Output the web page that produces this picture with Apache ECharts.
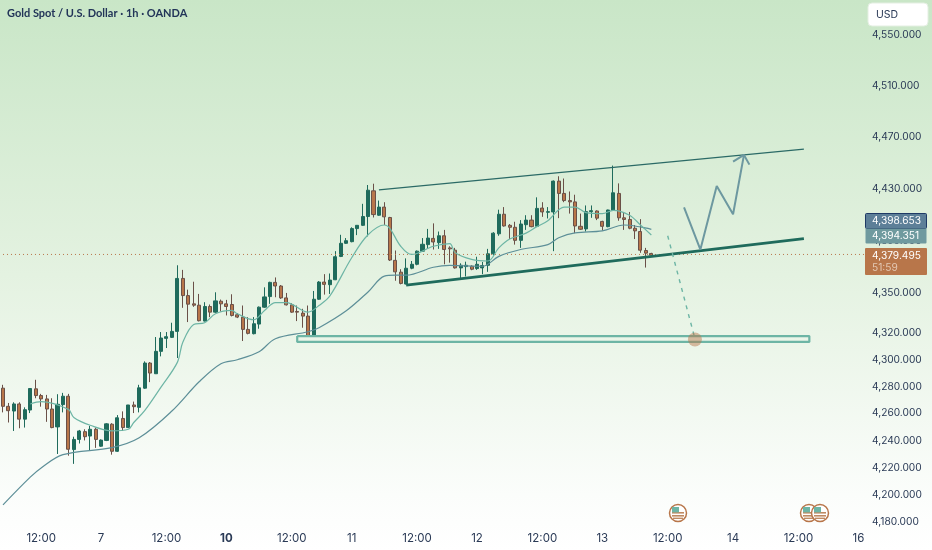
<!DOCTYPE html>
<html><head><meta charset="utf-8">
<script src="https://cdn.jsdelivr.net/npm/echarts@6/dist/echarts.min.js"></script>
<style>html,body{margin:0;padding:0;background:#fff}#c{width:932px;height:550px}</style>
</head><body><div id="c"></div>
<script>
const titleText = 'Gold Spot / U.S. Dollar · 1h · OANDA';
const yTicks = [4550,4510,4470,4430,4390,4350,4320,4300,4280,4260,4240,4220,4200,4180];
const xTickIdx = [7,18,30,41,53,64,76,87,99,110,122,134,146,157];
const xTickLabels = ['12:00','7','12:00','10','12:00','11','12:00','12','12:00','13','12:00','14','12:00','16'];
const barCount = 160;
const opens = [4278.75,4265.25,4261.75,4267,4255.75,4262.5,4278.25,4273.25,4270.75,4263.25,4250,4266.5,4272.75,4233.25,4240.75,4246.5,4243.25,4248.25,4235.75,4240,4252,4232,4256.25,4249.5,4266.25,4264.5,4278.75,4297.5,4289.5,4306.25,4316,4316.75,4321.25,4361.25,4348.25,4342,4341,4329,4340,4335.75,4344,
4342,4341.5,4333.75,4332,4322.75,4319.5,4326.75,4339.5,4347.5,4358.25,4355.5,4346.5,4341.25,4336.25,4335,4332.75,4317.75,4345.5,4358.5,4356.5,4360.25,4378,4388,4389.25,4399.25,4401.75,4408.5,4428.25,4409.5,4415.75,4407.75,4375,4366,4357,4369,4372,4382,4387,4391.75,4388.5,
4393.75,4384.5,4382.75,4369.25,4370.25,4370.5,4368.75,4369.25,4371.25,4380,4395.25,4410.25,4401.75,4400.25,4390.25,4402.25,4405.75,4401,4415,4411.75,4412,4435.75,4426.25,4420.75,4419.75,4401,4399,4412.25,4412.75,4404.75,4400.75,4413.25,4426.25,4407.5,4406.25,4399.5,4397,4382.5,4380.25];
const closes = [4265.25,4262,4267,4255.75,4262.75,4278.5,4273.25,4270.75,4263.25,4249.5,4266.75,4272.75,4233.5,4240.75,4247,4242.75,4248.25,4240.75,4240.25,4252.25,4232,4256.75,4249.5,4266.25,4265,4279,4297.5,4290,4306.25,4316.25,4317.25,4321.25,4361.25,4348.25,4341.75,4341,4329.25,4340,4335.75,4344.25,4342,
4340,4333.25,4332,4322.75,4319.75,4327,4339.5,4347.25,4358.25,4355.5,4346.5,4341.25,4335.75,4335.75,4332.75,4317.75,4345.5,4358.5,4356.75,4360,4377.75,4388,4390,4399.25,4401.75,4408.5,4428.75,4410,4415.75,4408.25,4375.25,4366.25,4357.5,4369,4372,4382,4387.25,4392,4389,4393.75,
4383.25,4383.75,4369.25,4371.25,4371.25,4368.25,4372,4371,4380,4395.75,4410.25,4401.25,4400.25,4390.25,4402.75,4405.75,4400.75,4414.75,4412,4412.25,4435.75,4426.25,4420.75,4419.75,4401.25,4398.75,4412.25,4413,4407.25,4401,4413.5,4426.75,4407.5,4406.25,4399.5,4397.5,4382.75,4380.5,4379];
const lows = [4260.75,4253.25,4247,4249,4249.5,4260.25,4271.25,4265,4253.75,4249,4230,4260.75,4228.75,4222.75,4237.75,4240,4232.75,4234.5,4235.25,4239.5,4229.5,4231.5,4247,4249.25,4260.25,4260.75,4278.25,4283.25,4289.5,4302.5,4308.75,4316.25,4301.25,4339,4328.25,4339.75,4328.75,4328.75,4332,4335.25,4336.25,
4333.25,4332.5,4331.25,4314,4319,4319,4323.25,4339,4342,4347,4345.75,4340.75,4335.25,4329,4324,4317.5,4317.5,4345,4349,4349.5,4360,4377.5,4387.5,4388.75,4394.25,4401.25,4393.25,4407.75,4409,4402,4374.5,4359.5,4356.75,4356.75,4368.25,4371.25,4381.5,4383.75,4383.25,4383.75,
4372,4373.25,4368.75,4361.25,4362.75,4367.5,4367.75,4364.5,4366.25,4378.75,4393.75,4400.75,4391.25,4387,4384.5,4398.25,4400.25,4400.5,4408.25,4407,4382,4407.25,4419.5,4410.75,4395.75,4398.25,4397,4407.5,4405.75,4397.75,4400.25,4412.75,4405.25,4398.25,4398.75,4391.25,4380.75,4369.5,4378.25];
const highs = [4281.25,4267.75,4268.25,4268.25,4264.5,4278.5,4285,4274.5,4273.75,4271.25,4274.25,4275.25,4274.5,4242.75,4247.75,4248.25,4250.75,4249.5,4240.75,4252.75,4252.75,4258.75,4261.5,4266.25,4268.75,4281.25,4298.75,4298.25,4317,4320.75,4320.75,4327.75,4371.25,4367.75,4352.75,4358.75,4349.5,4343.25,4341.5,4350.75,4345.25,
4345,4349.25,4335,4340.75,4332,4332,4340,4354.5,4358.75,4362,4356.25,4350.25,4342.5,4340.75,4338.25,4340.75,4351.75,4359.25,4364.5,4365,4382,4394.5,4392,4400.25,4401.75,4418.25,4432.75,4433.75,4420.75,4419.5,4408.25,4382.5,4368.25,4376.5,4374.5,4382.5,4392,4399,4403.25,4397,
4398.25,4385.75,4384.5,4372.75,4374,4371.25,4377.75,4373.75,4383.75,4396.5,4413.75,4415.75,4402.75,4404.5,4405.75,4409.5,4409.5,4423.25,4419.5,4415.75,4436.25,4439.5,4437.75,4427.75,4425.25,4410.75,4417,4417,4413.25,4405.25,4413.75,4447.75,4434,4412,4412,4402,4406.5,4384.5,4380.75];
const slowMA = [[0,4192.75],[5,4213],[7,4219.75],[11,4229.5],[20,4234.75],[25,4242],[31,4261.75],[36,4283.5],[40,4297],[43,4300],[47,4306],[50,4315.75],[56,4321],[58,4324],[63,4336.75],[67,4351],[70,4363],[72,4363.75],[74,4363.75],[79,4369.75],[82,4371.25],[88,4370.5],[91,4378],[95,4383.25],[100,4387],[102,4392.25],[105,4396],[110,4397.5],[114,4402],[117,4400.5],[119,4398.65]];
const fastMA = [[5,4267],[7,4268.75],[12,4263],[13,4257],[16,4251.25],[20,4247],[23,4248.25],[24,4253.25],[26,4262],[29,4279.5],[32,4298],[33,4313],[35,4326.5],[37,4327.75],[39,4334.5],[42,4337],[43,4334.5],[46,4330],[48,4337],[50,4343],[52,4343],[56,4335.75],[58,4340.75],[60,4348],[64,4377],[67,4394.5],[70,4402],[71,4399.5],[73,4385.75],[75,4379.5],[79,4385.75],[82,4387.75],[83,4380.75],[86,4375.75],[89,4374.5],[91,4384.5],[93,4391.25],[96,4395.75],[98,4400.75],[100,4405.25],[103,4415.75],[105,4415.75],[107,4411.5],[110,4410.75],[112,4413.25],[115,4409.5],[117,4402],[119,4394.35]];
const upperTrend = [[69,4429],[147,4460.5]];
const lowerTrend = [[74,4356.25],[147,4391.5]];
const supportBox = [[54,4317.7],[148,4317.7],[148,4313.3],[54,4313.3],[54,4317.7]];
const zigzag = [[125,4415.5],[128,4383.25],[131,4432],[134,4410.25],[136,4456]];
const arrowHead = [[134,4450.75],[136,4456],[137,4448.5]];
const dropPath = [[122,4393.75],[127,4315.75]];
const targetDot = [[127,4315.2]];
const lastPrice = 4379.495, slowTag = '4,398.653', fastTag = '4,394.351', lastTag = '4,379.495', countdown = '51:59', currency = 'USD';

const cats = Array.from({length:barCount},(_,i)=>{const k=xTickIdx.indexOf(i);return k<0?'':xTickLabels[k];});
const candles = opens.map((o,i)=>[o,closes[i],lows[i],highs[i]]);
const FONT='Inter, "Liberation Sans", sans-serif';
const INK='#2a3a56';
function seg(name,data,color,width,extra,smooth){return {name,type:'line',data,symbol:'none',silent:true,animation:false,clip:false,smooth:smooth||false,lineStyle:Object.assign({color,width},extra||{})};}
function tag(y,h,fill,stroke,txt,col){return [
 {type:'rect',z:50,shape:{x:865.5,y,width:61,height:h,r:1},style:{fill,stroke,lineWidth:stroke==='none'?0:1}},
 {type:'text',z:51,style:{x:872,y:y+h/2,text:txt,fill:col,font:'10.2px '+FONT,verticalAlign:'middle',textAlign:'left'}}];}
function flag(cx){const cy=513,r=8.5;return {type:'group',z:40,children:[
 {type:'circle',shape:{cx,cy,r},style:{fill:'#fff',stroke:'#b8764a',lineWidth:1.5}},
 {type:'rect',shape:{x:cx-6,y:cy-1,width:12,height:1.6},style:{fill:'#c08a62'}},
 {type:'rect',shape:{x:cx-6,y:cy+2,width:12,height:1.6},style:{fill:'#c08a62'}},
 {type:'rect',shape:{x:cx-5,y:cy+4.6,width:10,height:1.4},style:{fill:'#c08a62'}},
 {type:'rect',shape:{x:cx-6,y:cy-6,width:7,height:5.4},style:{fill:'#6db5a5'}}]};}
const chart=echarts.init(document.getElementById('c'),null,{renderer:'canvas'});
chart.setOption({
 animation:false,
 backgroundColor:new echarts.graphic.LinearGradient(0,0,0,1,[{offset:0,color:'#c9e6c7'},{offset:0.5,color:'#e4f2e1'},{offset:0.9,color:'#fbfdfb'},{offset:1,color:'#ffffff'}]),
 title:{text:titleText,left:7,top:8,padding:0,textStyle:{fontFamily:'Lato, sans-serif',fontSize:11,fontWeight:'bold',color:'#223458'}},
 grid:{left:0,top:0,width:872,height:527,containLabel:false},
 xAxis:{type:'category',data:cats,boundaryGap:true,axisLine:{show:false},axisTick:{show:false},splitLine:{show:false},
  axisLabel:{interval:0,margin:5,fontFamily:FONT,fontSize:11.5,color:INK,lineHeight:14,formatter:v=>v==='10'?'{b|10}':v,rich:{b:{fontWeight:'bold',fontFamily:FONT,fontSize:11.5,color:INK}}}},
 yAxis:{type:'log',position:'right',min:4176.6,max:4577.8,axisLine:{show:false},axisTick:{show:false},splitLine:{show:false},
  axisLabel:{customValues:yTicks,inside:false,margin:0,padding:[6,0,0,0],fontFamily:FONT,fontSize:10.2,color:INK,showMinLabel:true,showMaxLabel:true,hideOverlap:false,formatter:v=>Number(v).toLocaleString('en-US',{minimumFractionDigits:3,maximumFractionDigits:3})}},
 series:[
  seg('Last price',[[0,lastPrice],[159,lastPrice]],'#b8764a',1,{type:[1,3]}),
  seg('Slow MA',slowMA,'#5d8f98',1.2,null,0.35),
  seg('Fast MA',fastMA,'#6db5a5',1.2,null,0.35),
  {name:'XAUUSD',type:'candlestick',data:candles,barWidth:3.6,silent:true,itemStyle:{color:'#1f6b5c',color0:'#b8764a',borderColor:'#1f6b5c',borderColor0:'#6a5048',borderWidth:1}},
  seg('Upper trend',upperTrend,'#2b6a66',1.4),
  seg('Lower trend',lowerTrend,'#1f6b5c',2.8),
  seg('Support box',supportBox,'#6db5a5',2.2),
  seg('Path up',zigzag,'#6d98a0',2),
  seg('Arrow head',arrowHead,'#6d98a0',2),
  seg('Path down',dropPath,'#6db5a5',1.4,{type:[4,5]}),
  {name:'Target',type:'scatter',data:targetDot,symbolSize:14,silent:true,itemStyle:{color:'rgba(184,118,74,0.6)'},z:6}
 ],
 graphic:{elements:[
  {type:'rect',z:50,shape:{x:868,y:3,width:60,height:23,r:4},style:{fill:'#fff',stroke:'#e4efe2',lineWidth:1}},
  {type:'text',z:51,style:{x:876,y:15,text:currency,fill:INK,font:'10.5px '+FONT,verticalAlign:'middle'}},
  ...tag(213.5,15,'#5d7f98','#1f3a66',slowTag,'#ffffff'),
  ...tag(228.5,15,'#6f9a9f','none',fastTag,'#ffffff'),
  {type:'rect',z:50,shape:{x:865,y:248,width:62,height:27,r:1},style:{fill:'#b8764a'}},
  {type:'text',z:51,style:{x:872,y:255.5,text:lastTag,fill:'#ffffff',font:'10.2px '+FONT,verticalAlign:'middle'}},
  {type:'text',z:51,style:{x:872,y:267.5,text:countdown,fill:'#e3c8b3',font:'10.2px '+FONT,verticalAlign:'middle'}},
  flag(678),flag(809),flag(820)
 ]}
});
</script></body></html>
